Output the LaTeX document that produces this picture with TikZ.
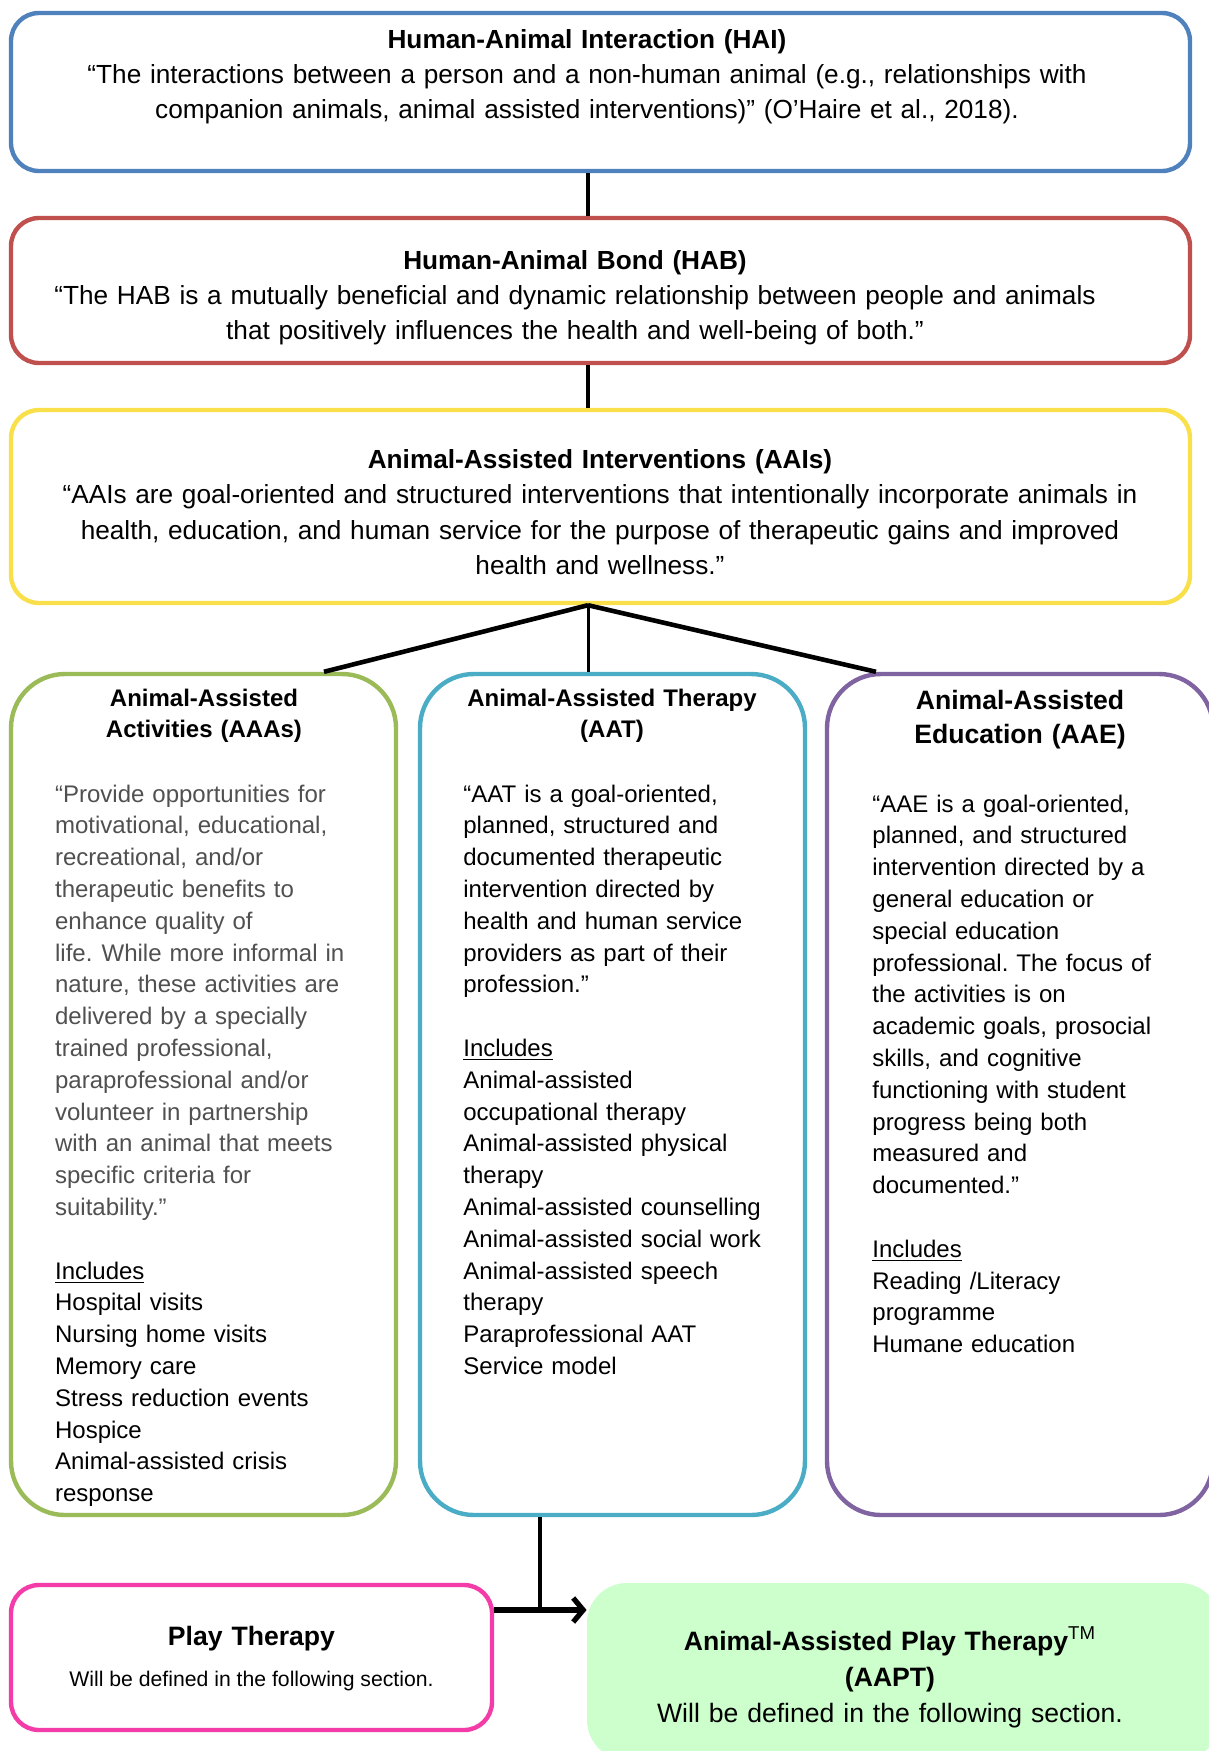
\documentclass[tikz,border=0pt]{standalone}
\usepackage{fontspec}
\setmainfont{Liberation Sans}
\usetikzlibrary{arrows.meta}
\definecolor{cblue}{HTML}{4F81BD}
\definecolor{cred}{HTML}{C0504D}
\definecolor{cyellow}{HTML}{F9E04B}
\definecolor{cgreen}{HTML}{9BBB59}
\definecolor{ccyan}{HTML}{4BACC6}
\definecolor{cpurple}{HTML}{8064A2}
\definecolor{cpink}{HTML}{F43CA8}
\definecolor{clight}{HTML}{CCFFCC}
\definecolor{cgray}{HTML}{505050}
\newcommand\mainsz{\fontsize{13.1}{17.65}\selectfont}
\newcommand\colsz{\fontsize{12}{15.9}\selectfont}
\newcommand\aaesz{\fontsize{13.3}{17.25}\selectfont}
\newcommand\smallsz{\fontsize{10.6}{13}\selectfont}
\frenchspacing
\begin{document}
\begin{tikzpicture}[x=0.5pt,y=-0.5pt,
  box/.style={draw, line width=2.2pt, rounded corners=14pt, inner sep=0pt, fill=white},
  bigbox/.style={box, minimum width=589.5pt},
  colbox/.style={box, rounded corners=27pt, minimum width=192.5pt, minimum height=420.5pt},
  maintxt/.style={inner sep=0pt, anchor=base, text width=590pt, align=center, font=\mainsz},
  coltitle/.style={inner sep=0pt, anchor=base, text width=185pt, align=center, font=\colsz\bfseries},
  colbody/.style={inner sep=0pt, anchor=base west, text width=185pt, align=left, font=\colsz},
  conn/.style={line width=1.7pt, black},
  branch/.style={line width=2.3pt, black}
]
\useasboundingbox (0,0) rectangle (1209,1751);
\clip (0,0) rectangle (1209,1751);
\fill[white] (0,0) rectangle (1209,1751);

% main boxes
\node[bigbox, draw=cblue, minimum height=79pt] (hai) at (600.5,92) {};
\node[bigbox, draw=cred, minimum height=72.5pt] (hab) at (600.5,290.5) {};
\node[bigbox, draw=cyellow, minimum height=96.5pt] (aai) at (600.5,506.5) {};

\node[maintxt] (haiT) at (587,48) {\textbf{Human-Animal Interaction (HAI)}\\
“The interactions between a person and a non-human animal (e.g., relationships with\\
companion animals, animal assisted interventions)” (O’Haire et al., 2018).};

\node[maintxt] (habT) at (575,269) {\textbf{Human-Animal Bond (HAB)}\\
“The HAB is a mutually beneficial and dynamic relationship between people and animals\\
that positively influences the health and well-being of both.”};

\node[maintxt] (aaiT) at (600,468.5) {\textbf{Animal-Assisted Interventions (AAIs)}\\
“AAIs are goal-oriented and structured interventions that intentionally incorporate animals in\\
health, education, and human service for the purpose of therapeutic gains and improved\\
health and wellness.”};

% column boxes
\node[colbox, draw=cgreen] (aaa) at (203.5,1094.5) {};
\node[colbox, draw=ccyan] (aat) at (612.5,1094.5) {};
\node[colbox, draw=cpurple, minimum width=193pt] (aae) at (1020,1094.5) {};

\node[coltitle] (aaaT) at (204,706) {Animal-Assisted\\Activities (AAAs)};
\node[colbody] (aaaB) at (54.7,802) {\textcolor{cgray}{“Provide opportunities for\\
motivational, educational,\\
recreational, and/or\\
therapeutic benefits to\\
enhance quality of\\
life.\hspace{4.6pt}While more informal in\\
nature, these activities are\\
delivered by a specially\\
trained professional,\\
paraprofessional and/or\\
volunteer in partnership\\
with an animal that meets\\
specific criteria for\\
suitability.”}\\[15.9pt]
\underline{Includes}\\
Hospital visits\\
Nursing home visits\\
Memory care\\
Stress reduction events\\
Hospice\\
Animal-assisted crisis\\
response};

\node[coltitle] (aatT) at (612,706) {Animal-Assisted Therapy\\(AAT)};
\node[colbody] (aatB) at (463,802) {“AAT is a goal-oriented,\\
planned, structured and\\
documented therapeutic\\
intervention directed by\\
health and human service\\
providers as part of their\\
profession.”\\[15.9pt]
\underline{Includes}\\
Animal-assisted\\
occupational therapy\\
Animal-assisted physical\\
therapy\\
Animal-assisted counselling\\
Animal-assisted social work\\
Animal-assisted speech\\
therapy\\
Paraprofessional AAT\\
Service model};

\node[coltitle, font=\aaesz\bfseries] (aaeT) at (1020,709) {Animal-Assisted\\Education (AAE)};
\node[colbody] (aaeB) at (872,812) {“AAE is a goal-oriented,\\
planned, and structured\\
intervention directed by a\\
general education or\\
special education\\
professional. The focus of\\
the activities is on\\
academic goals, prosocial\\
skills, and cognitive\\
functioning with student\\
progress being both\\
measured and\\
documented.”\\[15.9pt]
\underline{Includes}\\
Reading /Literacy\\
programme\\
Humane education};

% bottom boxes
\node[box, draw=cpink, minimum width=240.5pt, minimum height=72.5pt] (play) at (251.5,1657.5) {};
\node[maintxt, text width=230pt, font=\fontsize{13.3}{17.65}\selectfont] (playT) at (251.5,1645) {\textbf{Play Therapy}};
\node[inner sep=0pt, anchor=base, font=\smallsz] (playS) at (251.5,1686) {Will be defined in the following section.};

\node[draw=none, fill=clight, rounded corners=20pt, inner sep=0pt, minimum width=316.5pt, minimum height=88.5pt] (aapt) at (903.5,1671.5) {};
\node[maintxt, text width=300pt, font=\fontsize{13.3}{18}\selectfont] (aaptT) at (890,1650) {\textbf{Animal-Assisted Play Therapy}\textsuperscript{TM}\\
\textbf{(AAPT)}\\
Will be defined in the following section.};

% connectors
\draw[conn] ([xshift=-6.25pt]hai.south) -- ([xshift=-6.25pt]hab.north);
\draw[conn] ([xshift=-6.25pt]hab.south) -- ([xshift=-6.25pt]aai.north);
\coordinate (hub) at ([xshift=-6.25pt]aai.south);
\draw[branch] (hub) -- ([xshift=60.25pt]aaa.north);
\draw[conn, line width=1.5pt] (hub) -- ([xshift=-12.25pt]aat.north);
\draw[branch] (hub) -- ([xshift=-72pt]aae.north);

\coordinate (pe) at ([yshift=23.75pt]play.east);
\coordinate (drop) at ([xshift=-36.25pt]aat.south);
\draw[line width=2.4pt] (drop) -- (drop |- pe);
\draw[line width=2.6pt, -{Straight Barb[length=5pt,width=12pt]}] (pe) -- (pe -| aapt.west);
\end{tikzpicture}
\end{document}
